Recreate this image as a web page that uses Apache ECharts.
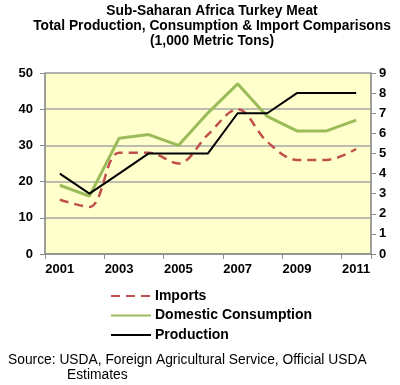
<!DOCTYPE html>
<html><head><meta charset="utf-8">
<script src="https://cdn.jsdelivr.net/npm/echarts@6/dist/echarts.min.js"></script>
<style>html,body{margin:0;padding:0;background:#fff}#c{width:400px;height:385px}</style>
</head><body><div id="c"></div>
<script>
const years = ['2001','2002','2003','2004','2005','2006','2007','2008','2009','2010','2011'];
const imports = [15, 13, 28, 28, 25, 33, 40, 31, 26, 26, 29];
const consumption = [19, 16, 32, 33, 30, 39, 47, 38, 34, 34, 37];
const production = [4, 3, 4, 5, 5, 5, 7, 7, 8, 8, 8];
const titleLines = ['Sub-Saharan Africa Turkey Meat','Total Production, Consumption & Import Comparisons','(1,000 Metric Tons)'];
const sourceLines = ['Source: USDA, Foreign Agricultural Service, Official USDA','Estimates'];

const chart = echarts.init(document.getElementById('c'));
const F = 'Liberation Sans, Arial, sans-serif';
const axisLine = {show:true, lineStyle:{color:'#8c8c8c', width:1.5}};
chart.setOption({
  animation:false,
  textStyle:{fontFamily:F},
  title:{text:titleLines.join('\n'), left:207, textAlign:'center', top:-1,
    textStyle:{fontFamily:F, fontSize:13.8, fontWeight:'bold', color:'#000', lineHeight:15}},
  grid:{left:45, right:29, top:73, bottom:131, show:true, backgroundColor:'#ffffcc', borderColor:'#b0b0b0', borderWidth:1},
  legend:{orient:'vertical', left:110, top:289, padding:0, itemWidth:40, itemHeight:10, itemGap:5.5,
    itemStyle:{color:'rgba(0,0,0,0)', borderWidth:0, opacity:0},
    textStyle:{fontFamily:F, fontSize:14, fontWeight:'bold', color:'#000', padding:[0,0,0,-1]},
    data:['Imports','Domestic Consumption','Production']},
  xAxis:{type:'category', data:years, boundaryGap:true, axisLine:axisLine,
    axisTick:{show:true, length:5, lineStyle:{color:'#8c8c8c'}},
    axisLabel:{interval:1, fontFamily:F, fontSize:13, fontWeight:'bold', color:'#000', margin:9}},
  yAxis:[
    {type:'value', min:0, max:50, interval:10, axisLine:axisLine,
     axisTick:{show:true, length:5, lineStyle:{color:'#8c8c8c'}},
     splitLine:{show:true, lineStyle:{color:'#a6a6a6', width:1.5}},
     axisLabel:{fontFamily:F, fontSize:13, fontWeight:'bold', color:'#000', margin:12}},
    {type:'value', min:0, max:9, interval:1, position:'right', axisLine:axisLine,
     axisTick:{show:true, length:5, lineStyle:{color:'#8c8c8c'}},
     splitLine:{show:false},
     axisLabel:{fontFamily:F, fontSize:13, fontWeight:'bold', color:'#000', margin:8}}
  ],
  series:[
    {name:'Imports', type:'line', data:imports, yAxisIndex:0, symbol:'none', smooth:0.35,
     lineStyle:{color:'#c0504d', width:2.5, type:[9,6]}, itemStyle:{color:'#c0504d'}},
    {name:'Domestic Consumption', type:'line', data:consumption, yAxisIndex:0, symbol:'none',
     lineStyle:{color:'#9bbb59', width:3}, itemStyle:{color:'#9bbb59'}},
    {name:'Production', type:'line', data:production, yAxisIndex:1, symbol:'none',
     lineStyle:{color:'#000', width:2}, itemStyle:{color:'#000'}}
  ],
  graphic:[
    {type:'text', left:8, top:353, style:{text:sourceLines[0], font:'13.8px '+F, fill:'#000'}},
    {type:'text', left:67, top:368, style:{text:sourceLines[1], font:'13.8px '+F, fill:'#000'}}
  ]
});
</script></body></html>
